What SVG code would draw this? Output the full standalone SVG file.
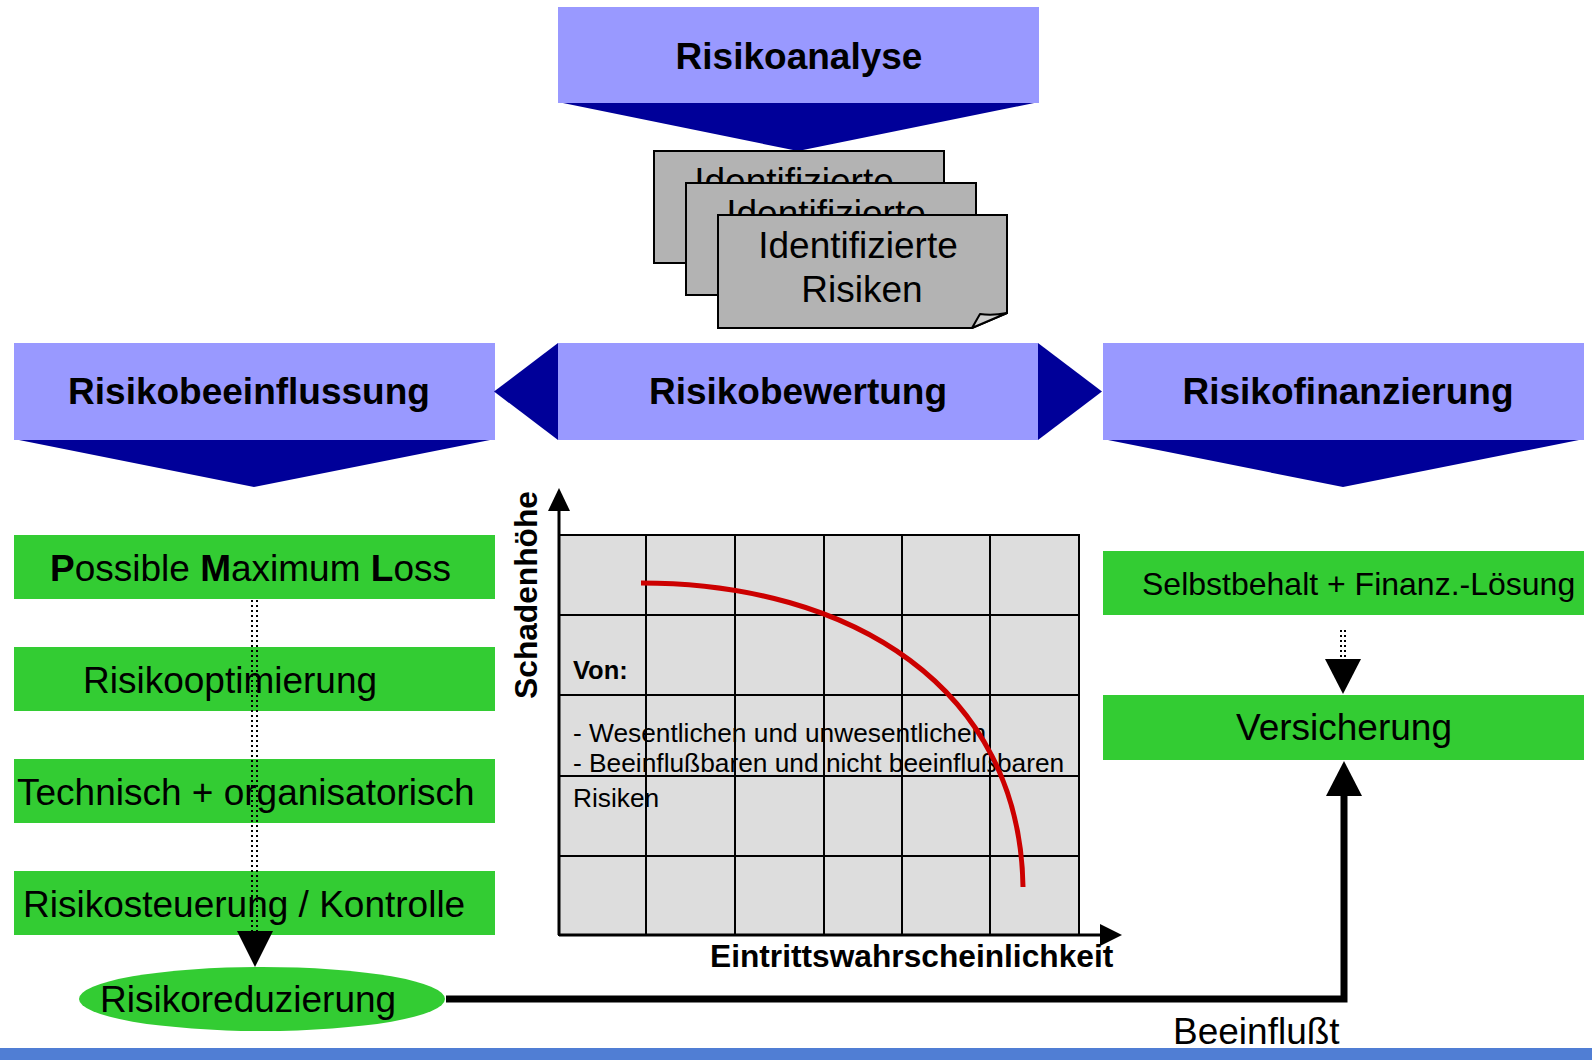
<svg xmlns="http://www.w3.org/2000/svg" width="1592" height="1060" viewBox="0 0 1592 1060">
<defs>
<style>
.hd{fill:#9999ff}
.dk{fill:#000099}
.gr{fill:#33cc33}
.t{font-family:"Liberation Sans",Arial,sans-serif;fill:#000}
.b{font-weight:bold}
.paper{fill:#b3b3b3;stroke:#000;stroke-width:2}
.dot{stroke:#000;stroke-width:2;stroke-dasharray:2 3;fill:none}
.grid{stroke:#000;stroke-width:2;fill:none}
</style>
</defs>
<rect width="1592" height="1060" fill="#fff"/>

<g id="risikoanalyse">
<polygon class="dk" points="558,102 1039,102 798,151"/>
<rect class="hd" x="558" y="7" width="481" height="96"/>
<text class="t b" x="799" y="69" font-size="37" text-anchor="middle">Risikoanalyse</text>
</g>

<g id="identifizierte-risiken">
<rect class="paper" x="654" y="151" width="290" height="112"/>
<text class="t" x="794" y="194" font-size="37" text-anchor="middle">Identifizierte</text>
<rect class="paper" x="686" y="183" width="290" height="112"/>
<text class="t" x="826" y="226" font-size="37" text-anchor="middle">Identifizierte</text>
<path class="paper" d="M718,215 H1007 V313 L972,328 H718 Z"/>
<path d="M972,328 L980,314 Q992,316 1007,313 Z" fill="#cfcfcf" stroke="#000" stroke-width="2" stroke-linejoin="round"/>
<text class="t" x="858" y="258" font-size="37" text-anchor="middle">Identifizierte</text>
<text class="t" x="862" y="302" font-size="37" text-anchor="middle">Risiken</text>
</g>

<g id="risikobeeinflussung">
<polygon class="dk" points="14,439 495,439 254,487"/>
<rect class="hd" x="14" y="343" width="481" height="97"/>
<text class="t b" x="249" y="404" font-size="37" text-anchor="middle">Risikobeeinflussung</text>
</g>

<g id="risikobewertung">
<polygon class="dk" points="558,343 558,440 494,391.5"/>
<polygon class="dk" points="1038,343 1038,440 1102,391.5"/>
<rect class="hd" x="558" y="343" width="480" height="97"/>
<text class="t b" x="798" y="404" font-size="37" text-anchor="middle">Risikobewertung</text>
</g>

<g id="risikofinanzierung">
<polygon class="dk" points="1103,439 1584,439 1343,487"/>
<rect class="hd" x="1103" y="343" width="481" height="97"/>
<text class="t b" x="1348" y="404" font-size="37" text-anchor="middle">Risikofinanzierung</text>
</g>

<g id="pml">
<rect class="gr" x="14" y="535" width="481" height="64"/>
<text class="t" x="50" y="581" font-size="37"><tspan class="b">P</tspan>ossible <tspan class="b">M</tspan>aximum <tspan class="b">L</tspan>oss</text>
</g>
<g id="risikooptimierung">
<rect class="gr" x="14" y="647" width="481" height="64"/>
<text class="t" x="83" y="693" font-size="37">Risikooptimierung</text>
</g>
<g id="technisch">
<rect class="gr" x="14" y="759" width="481" height="64"/>
<text class="t" x="17" y="805" font-size="37">Technisch + organisatorisch</text>
</g>
<g id="risikosteuerung">
<rect class="gr" x="14" y="871" width="481" height="64"/>
<text class="t" x="23" y="917" font-size="37">Risikosteuerung / Kontrolle</text>
</g>
<g id="risikoreduzierung">
<ellipse class="gr" cx="262" cy="999" rx="183" ry="32"/>
<text class="t" x="100" y="1012" font-size="37">Risikoreduzierung</text>
</g>

<g id="chart">
<rect x="559" y="535" width="520" height="400" fill="#dddddd"/>
<text class="t b" x="573" y="679" font-size="25.5">Von:</text>
<text class="t" x="573" y="742" font-size="26.3">- Wesentlichen und unwesentlichen</text>
<text class="t" x="573" y="772" font-size="26.3">- Beeinflußbaren und nicht beeinflußbaren</text>
<text class="t" x="573" y="807" font-size="26.3">Risiken</text>
<rect class="grid" x="559" y="535" width="520" height="400"/>
<path class="grid" d="M646,535V935M735,535V935M824,535V935M902,535V935M990,535V935M559,615H1079M559,695H1079M559,776H1079M559,856H1079"/>
<path d="M641,583 C852,583 1020,688 1023,887" fill="none" stroke="#cc0000" stroke-width="5"/>
<path d="M559,935V506M559,935H1102" stroke="#000" stroke-width="3" fill="none"/>
<polygon points="559,488 548,511 570,511" fill="#000"/>
<polygon points="1122,935 1100,924 1100,946" fill="#000"/>
<text class="t b" transform="translate(537,595) rotate(-90)" font-size="31.7" text-anchor="middle">Schadenhöhe</text>
<text class="t b" x="710" y="966.5" font-size="31.7">Eintrittswahrscheinlichkeit</text>
</g>

<g id="selbstbehalt">
<rect class="gr" x="1103" y="551" width="481" height="64"/>
<text class="t" x="1142" y="595" font-size="32">Selbstbehalt + Finanz.-Lösung</text>
</g>
<g id="versicherung">
<rect class="gr" x="1103" y="695" width="481" height="65"/>
<text class="t" x="1344" y="740" font-size="37" text-anchor="middle">Versicherung</text>
</g>

<g id="connectors">
<path class="dot" d="M252,600V931M257,600V931"/>
<polygon points="237,931 273,931 255,967" fill="#000"/>
<path class="dot" d="M1341,630V658M1345,630V658"/>
<polygon points="1325,659 1361,659 1343,694" fill="#000"/>
<path d="M446,999H1344V794" fill="none" stroke="#000" stroke-width="7"/>
<polygon points="1326,796 1362,796 1344,761" fill="#000"/>
<text class="t" x="1173" y="1044" font-size="37">Beeinflußt</text>
</g>

<rect x="0" y="1048" width="1592" height="12" fill="#507ed4"/>
</svg>
